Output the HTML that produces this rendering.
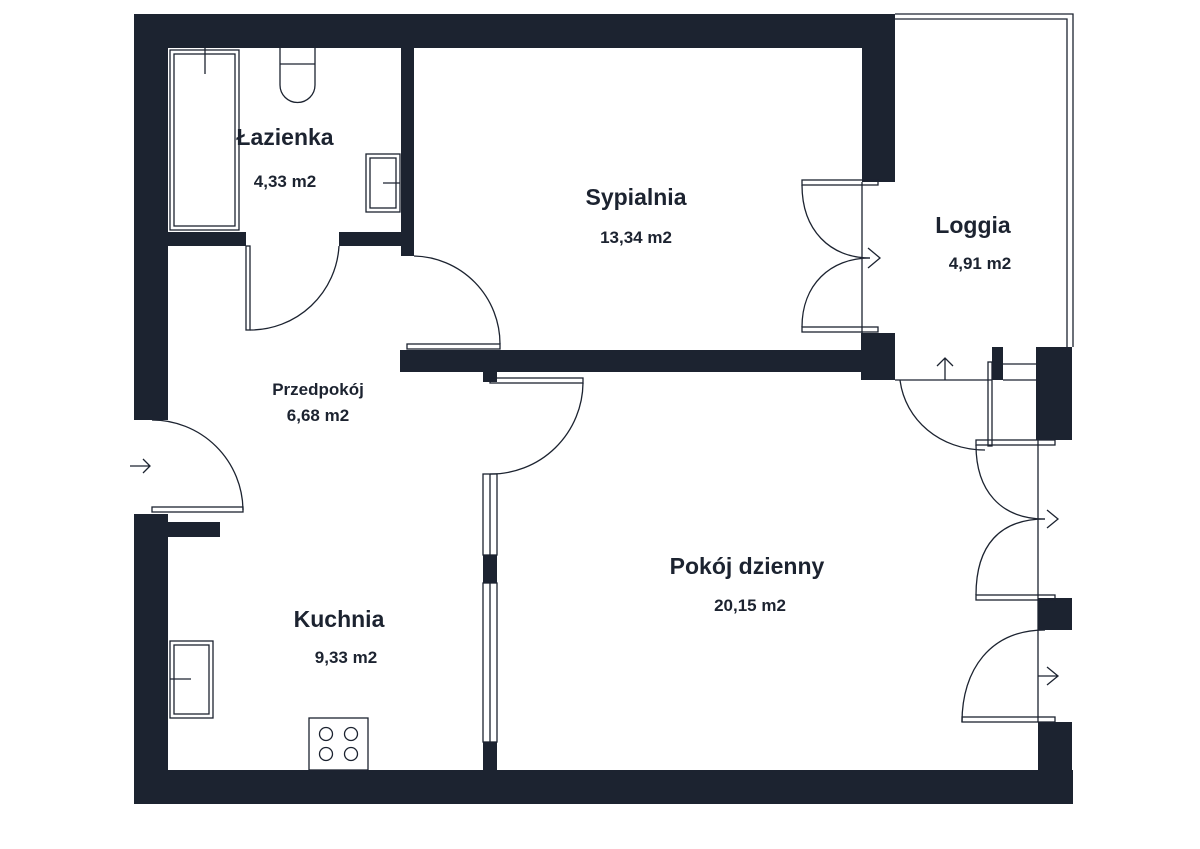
<!DOCTYPE html>
<html><head><meta charset="utf-8"><style>
html,body{margin:0;padding:0;background:#fff;}
svg{display:block}
text{font-family:"Liberation Sans",sans-serif;fill:#1c2330;font-weight:bold;text-anchor:middle}
.n{font-size:23px}
.a{font-size:17px}
</style></head><body>
<svg width="1200" height="849" viewBox="0 0 1200 849" xmlns="http://www.w3.org/2000/svg">
<g fill="#1c2330">
<rect x="134" y="14" width="761" height="34"/>
<rect x="134" y="14" width="34" height="406"/>
<rect x="134" y="514" width="34" height="290"/>
<rect x="134" y="770" width="939" height="34"/>
<rect x="862" y="14" width="33" height="168"/>
<rect x="401" y="48" width="13" height="208"/>
<rect x="168" y="232" width="78" height="14"/>
<rect x="339" y="232" width="75" height="14"/>
<rect x="400" y="350" width="462" height="22"/>
<rect x="483" y="372" width="14" height="10"/>
<rect x="861" y="333" width="34" height="47"/>
<rect x="992" y="347" width="11" height="33"/>
<rect x="1036" y="347" width="36" height="93"/>
<rect x="1038" y="598" width="34" height="32"/>
<rect x="1038" y="722" width="34" height="82"/>
<rect x="168" y="522" width="52" height="15"/>
<rect x="483" y="555" width="14" height="28"/>
<rect x="483" y="742" width="14" height="28"/>
</g>
<g fill="none" stroke="#1c2330" stroke-width="1.3">
<polyline points="895,14 1073,14 1073,347"/>
<polyline points="895,19 1067,19 1067,347"/>
<line x1="862" y1="182" x2="862" y2="333"/>
<line x1="895" y1="380" x2="992" y2="380"/>
<line x1="1003" y1="364" x2="1036" y2="364"/>
<line x1="1003" y1="380" x2="1036" y2="380"/>
<line x1="1038" y1="440" x2="1038" y2="722"/>
<rect x="170" y="50" width="69" height="180"/><rect x="174" y="54" width="61" height="172"/>
<line x1="205" y1="48" x2="205" y2="74"/>
<path d="M280,48 V85 A17.5,17.5 0 0 0 315,85 V48"/><line x1="280" y1="64" x2="315" y2="64"/>
<rect x="366" y="154" width="34" height="58"/><rect x="370" y="158" width="26" height="50"/>
<line x1="383" y1="183" x2="400" y2="183"/>
<rect x="170" y="641" width="43" height="77"/><rect x="174" y="645" width="35" height="69"/>
<line x1="170" y1="679" x2="191" y2="679"/>
<rect x="309" y="718" width="59" height="52"/>
<circle cx="326" cy="734" r="6.5"/><circle cx="351" cy="734" r="6.5"/>
<circle cx="326" cy="754" r="6.5"/><circle cx="351" cy="754" r="6.5"/>
<rect x="483" y="474" width="14" height="81"/><line x1="490" y1="474" x2="490" y2="555"/>
<rect x="483" y="583" width="14" height="159"/><line x1="490" y1="583" x2="490" y2="742"/>
<rect x="152" y="507" width="91" height="5"/>
<path d="M243,510 A91,91 0 0 0 152,420"/>
<path d="M130,466 H150 M143,459 L150,466 L143,473"/>
<rect x="246" y="246" width="4" height="84"/>
<path d="M250,330 A89,89 0 0 0 339,246"/>
<rect x="407" y="344" width="93" height="5"/>
<path d="M414,256 A88,88 0 0 1 500,344"/>
<rect x="490" y="378" width="93" height="5"/>
<path d="M583,383 A92,92 0 0 1 490,474"/>
<rect x="802" y="180" width="76" height="5"/>
<rect x="802" y="327" width="76" height="5"/>
<path d="M802,185 C802,230 830,258 870,258"/>
<path d="M802,327 C802,285 830,258 870,258"/>
<path d="M868,248 L880,258 L868,268"/>
<rect x="988" y="362" width="4" height="84"/>
<path d="M900,380 C905,420 940,450 985,450"/>
<path d="M945,380 V358 M937,366 L945,358 L953,366"/>
<rect x="976" y="440" width="79" height="5"/>
<path d="M976,445 C976,490 1000,519 1045,519"/>
<path d="M976,595 C976,545 1000,519 1045,519"/>
<path d="M1047,510 L1058,519 L1047,528"/>
<rect x="976" y="595" width="79" height="5"/>
<path d="M962,722 C962,670 990,630 1045,630"/>
<rect x="962" y="717" width="93" height="5"/>
<path d="M1038,676 H1058 M1047,667 L1058,676 L1047,685"/>
</g>
<text class="n" x="285" y="145">Łazienka</text>
<text class="a" x="285" y="187">4,33 m2</text>
<text class="n" x="636" y="205">Sypialnia</text>
<text class="a" x="636" y="243">13,34 m2</text>
<text class="n" x="973" y="233">Loggia</text>
<text class="a" x="980" y="269">4,91 m2</text>
<text class="a" x="318" y="395">Przedpokój</text>
<text class="a" x="318" y="421">6,68 m2</text>
<text class="n" x="339" y="627">Kuchnia</text>
<text class="a" x="346" y="663">9,33 m2</text>
<text class="n" x="747" y="574">Pokój dzienny</text>
<text class="a" x="750" y="611">20,15 m2</text>
</svg>
</body></html>
